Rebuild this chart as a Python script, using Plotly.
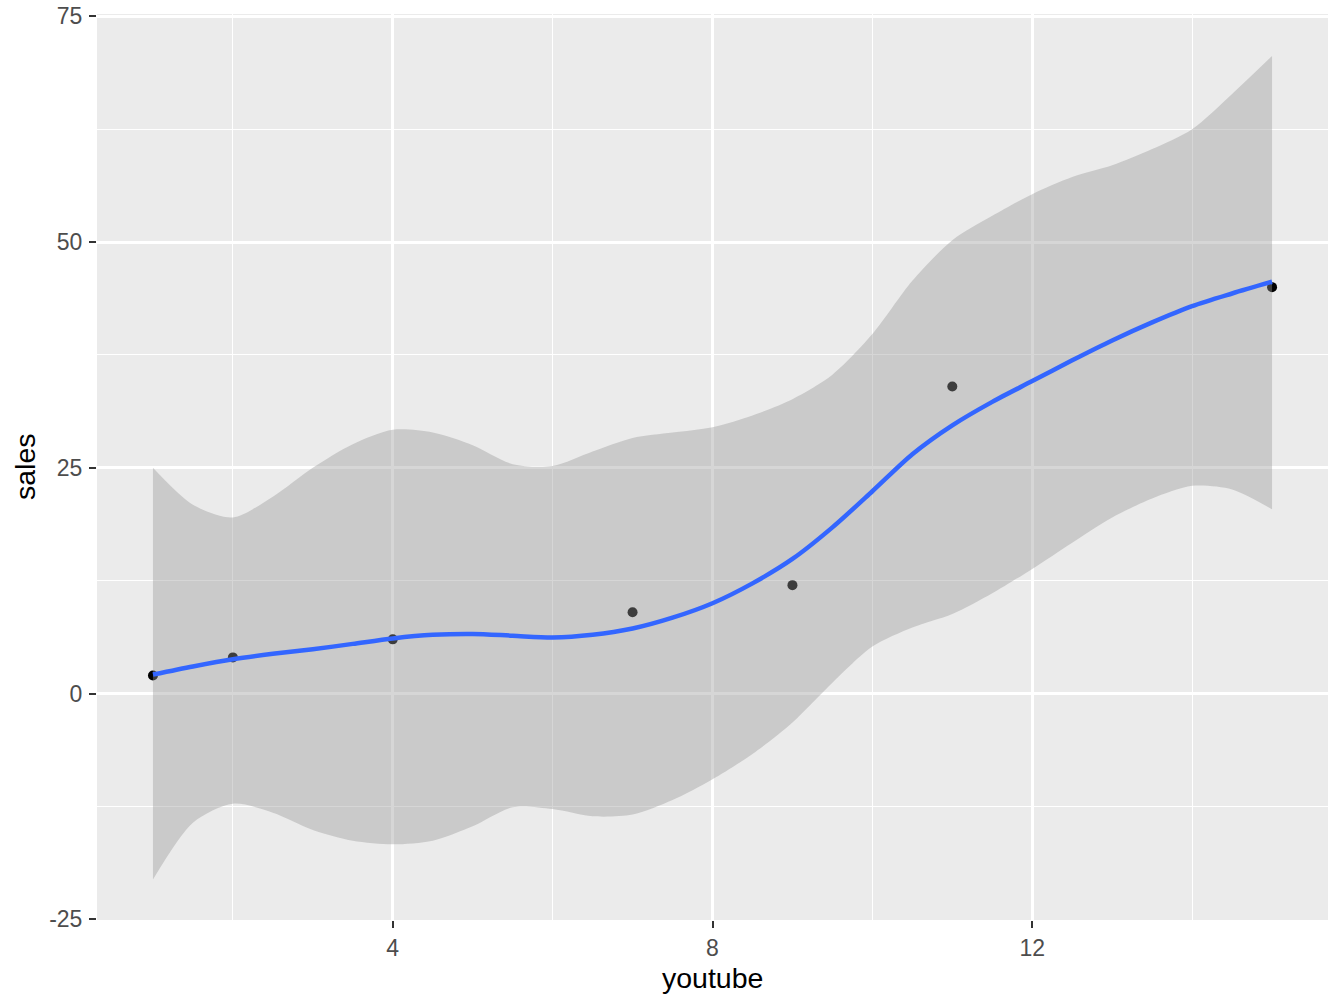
import plotly.graph_objects as go

# observed data points
youtube = [1, 2, 4, 7, 9, 11, 15]
sales = [2, 4, 6, 9, 12, 34, 45]

# loess fit + confidence band
fit_x = [1, 1.5, 2, 2.5, 3, 3.5, 4, 4.5, 5, 5.5, 6, 6.5, 7, 7.5, 8, 8.5,
         9, 9.5, 10, 10.5, 11, 11.5, 12, 12.5, 13, 13.5, 14, 14.5, 15]
fit_y = [2.1, 3.0, 3.8, 4.4, 4.9, 5.5, 6.1, 6.5, 6.6, 6.4, 6.2, 6.5, 7.2, 8.4, 10.0, 12.2,
         14.9, 18.4, 22.4, 26.5, 29.7, 32.3, 34.6, 36.9, 39.1, 41.1, 42.9, 44.3, 45.6]
fit_upper = [25.0, 20.9, 19.5, 21.8, 25.0, 27.6, 29.2, 28.9, 27.5, 25.4, 25.2, 26.8, 28.3, 28.9, 29.5, 30.8,
             32.6, 35.3, 39.8, 45.7, 50.2, 52.9, 55.3, 57.2, 58.5, 60.3, 62.5, 66.4, 70.6]
fit_lower = [-20.6, -14.3, -12.2, -13.2, -15.1, -16.3, -16.7, -16.3, -14.7, -12.6, -12.8, -13.6, -13.4, -11.8, -9.5, -6.7,
             -3.2, 1.2, 5.2, 7.3, 8.8, 11.1, 13.8, 16.7, 19.5, 21.6, 23.0, 22.6, 20.4]

x_ticks = [4, 8, 12]
y_ticks = [-25, 0, 25, 50, 75]

FONT = "Liberation Sans, Arial, sans-serif"

fig = go.Figure()

# points go first so the ribbon sits on top of them (as ggplot draws it)
fig.add_trace(go.Scatter(x=youtube, y=sales, mode="markers",
                         marker=dict(color="black", size=10), hoverinfo="x+y"))
fig.add_trace(go.Scatter(x=fit_x, y=fit_lower, mode="lines",
                         line=dict(width=0, shape="spline", smoothing=0.8), hoverinfo="skip"))
fig.add_trace(go.Scatter(x=fit_x, y=fit_upper, mode="lines", fill="tonexty",
                         fillcolor="rgba(153,153,153,0.4)",
                         line=dict(width=0, shape="spline", smoothing=0.8), hoverinfo="skip"))
fig.add_trace(go.Scatter(x=fit_x, y=fit_y, mode="lines",
                         line=dict(color="#3366FF", width=4.5, shape="spline", smoothing=0.8)))

axis_common = dict(
    showgrid=True, gridcolor="white", gridwidth=2.5,
    zeroline=False, showline=False, automargin=False,
    ticks="outside", ticklen=7, tickwidth=2.2, tickcolor="#333333",
    ticklabeloverflow="allow",
    tickfont=dict(family=FONT, size=23, color="#4D4D4D"),
)

fig.update_xaxes(
    range=[0.3, 15.7], tickvals=x_ticks, ticktext=[str(v) for v in x_ticks],
    minor=dict(tick0=0, dtick=2, showgrid=True, gridcolor="white", gridwidth=1.3, ticklen=0),
    **axis_common,
)
fig.update_yaxes(
    range=[-25.08, 75.25], tickvals=y_ticks, ticktext=[str(v) for v in y_ticks],
    ticklabelstandoff=2,
    minor=dict(tick0=0, dtick=12.5, showgrid=True, gridcolor="white", gridwidth=1.3, ticklen=0),
    **axis_common,
)

# axis titles as annotations so they sit where ggplot put them
fig.add_annotation(text="youtube", xref="paper", yref="paper", x=0.5, y=0,
                   xanchor="center", yanchor="middle", yshift=-58, showarrow=False,
                   font=dict(family=FONT, size=28.5, color="black"))
fig.add_annotation(text="sales", xref="paper", yref="paper", x=0, y=0.5, textangle=-90,
                   xanchor="center", yanchor="middle", xshift=-72, showarrow=False,
                   font=dict(family=FONT, size=28.5, color="black"))

fig.update_layout(
    width=1344, height=1008,
    margin=dict(l=97, r=16, t=14, b=88),
    plot_bgcolor="#EBEBEB", paper_bgcolor="white",
    showlegend=False,
)

# drop the browser's default 8px body margin so the figure fills the window
fig.write_html("out.html", config={"displayModeBar": False},
               post_script="document.body.style.margin = '0';")
